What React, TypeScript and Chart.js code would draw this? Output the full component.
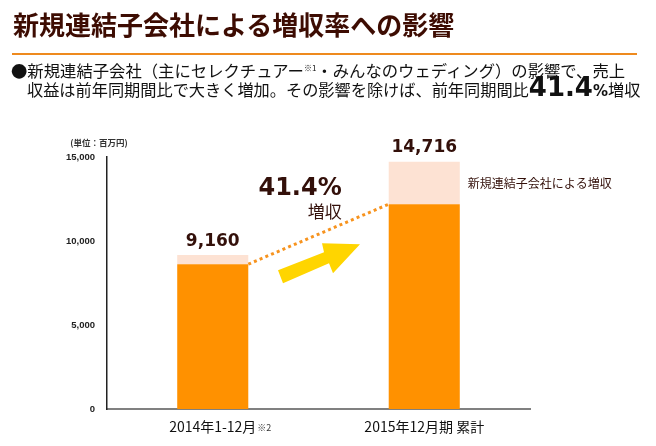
import React, { useEffect, useRef } from "react";
import { Chart, registerables } from "chart.js";
Chart.register(...registerables);

const categories = ["2014年1-12月", "2015年12月期 累計"];
const categoryNotes = ["※2", ""];
const baseValues = [8620, 12190];
const newSubsidiaryValues = [540, 2526];
const totalLabels = ["9,160", "14,716"];
const yMax = 15000;
const yStep = 5000;
const growthLabel = "41.4%";
const growthSub = "増収";
const segmentLabel = "新規連結子会社による増収";
const unitLabel = "(単位：百万円)";

const CJK = '"Noto Sans CJK JP", "Noto Sans", sans-serif';
const BROWN = "#33100a";
const ORANGE = "#ff9100";
const PEACH = "#fde2d3";

const annotationPlugin = {
  id: "annotations",
  afterDatasetsDraw(chart: any) {
    const { ctx, chartArea } = chart;
    const m0 = chart.getDatasetMeta(0).data;
    const m1 = chart.getDatasetMeta(1).data;
    ctx.save();

    // dotted growth line between base tops
    const a = m0[0], b = m0[1];
    ctx.strokeStyle = "#f7931e";
    ctx.lineWidth = 3;
    ctx.setLineDash([3, 3.2]);
    ctx.beginPath();
    ctx.moveTo(a.x + a.width / 2, a.y);
    ctx.lineTo(b.x - b.width / 2, b.y);
    ctx.stroke();
    ctx.setLineDash([]);

    // yellow arrow (decoration)
    const ax = (a.x + b.x) / 2;
    const ay = a.y;
    const pts = [
      [-40.5, 6], [5.5, -12], [3.5, -21], [41.5, -20], [14.5, 9], [10.5, -1], [-35.5, 19],
    ];
    ctx.fillStyle = "#ffd500";
    ctx.beginPath();
    pts.forEach((p, i) => (i ? ctx.lineTo(ax + p[0], ay + p[1]) : ctx.moveTo(ax + p[0], ay + p[1])));
    ctx.closePath();
    ctx.fill();

    // total labels
    ctx.fillStyle = BROWN;
    ctx.textAlign = "center";
    ctx.textBaseline = "middle";
    ctx.font = 'bold 17px "DejaVu Sans", sans-serif';
    m1.forEach((el: any, i: number) => {
      ctx.fillText(totalLabels[i], el.x, el.y - 14);
    });

    // growth annotation
    const rightX = b.x - b.width / 2 - 47;
    ctx.textAlign = "right";
    ctx.font = 'bold 24px "DejaVu Sans", sans-serif';
    ctx.fillText(growthLabel, rightX, chartArea.top + 32);
    ctx.font = `17px ${CJK}`;
    ctx.fillText(growthSub, rightX, chartArea.top + 55);

    // segment label
    const s = m1[1];
    ctx.textAlign = "left";
    ctx.font = `12px ${CJK}`;
    ctx.fillText(segmentLabel, s.x + s.width / 2 + 8, (s.y + m0[1].y) / 2);

    // unit label
    ctx.textAlign = "center";
    ctx.fillStyle = "#333";
    ctx.font = `bold 8.5px ${CJK}`;
    ctx.fillText(unitLabel, chartArea.left - 8, chartArea.top - 14);

    // category notes
    const xs = chart.scales.x;
    ctx.font = `14px ${CJK}`;
    categoryNotes.forEach((n, i) => {
      if (!n) return;
      const w = ctx.measureText(categories[i]).width;
      const cx = xs.getPixelForValue(i);
      ctx.font = `9px ${CJK}`;
      ctx.fillStyle = "#333";
      ctx.textAlign = "left";
      ctx.fillText(n, cx + w / 2 + 1, chartArea.bottom + 19);
      ctx.font = `14px ${CJK}`;
    });
    ctx.restore();
  },
};

export default function App() {
  const ref = useRef<HTMLCanvasElement>(null);
  useEffect(() => {
    if (!ref.current) return;
    const chart = new Chart(ref.current, {
      type: "bar",
      data: {
        labels: categories,
        datasets: [
          { data: baseValues, backgroundColor: ORANGE, barPercentage: 0.336, categoryPercentage: 1 },
          { data: newSubsidiaryValues, backgroundColor: PEACH, barPercentage: 0.336, categoryPercentage: 1 },
        ],
      },
      options: {
        responsive: false,
        animation: false,
        layout: { padding: { top: 157, right: 126, left: 0, bottom: 0 } },
        plugins: { legend: { display: false }, tooltip: { enabled: false } },
        scales: {
          x: {
            stacked: true,
            grid: { display: false, drawTicks: false },
            border: { display: true, color: "#808080", width: 2 },
            ticks: { color: "#111", font: { family: CJK, size: 14 }, padding: 9 },
            afterFit: (sc: any) => { sc.height = 37; },
          },
          y: {
            stacked: true,
            min: 0,
            max: yMax,
            grid: { display: false, drawTicks: false },
            border: { display: true, color: "#222", width: 1.5 },
            ticks: {
              stepSize: yStep,
              color: "#222",
              padding: 12,
              font: { family: '"Liberation Sans", Arial, sans-serif', size: 9.5, weight: "bold" },
              callback: (v: any) => Number(v).toLocaleString("en-US"),
            },
            afterFit: (sc: any) => { sc.width = 107; },
          },
        },
      } as any,
      plugins: [annotationPlugin],
    });
    return () => chart.destroy();
  }, []);

  return (
    <div style={{ position: "absolute", left: 0, top: 0, width: 656, height: 446, background: "#fff", overflow: "hidden" }}>
      <canvas ref={ref} width={656} height={446} style={{ position: "absolute", left: 0, top: 0, width: 656, height: 446 }} />
      <div style={{ position: "absolute", left: 13, top: 10, fontFamily: CJK, fontWeight: 700, fontSize: 26, lineHeight: "27px", color: "#3d0c02", whiteSpace: "nowrap" }}>
        新規連結子会社による増収率への影響
      </div>
      <div style={{ position: "absolute", left: 12, top: 53, width: 625, height: 2, background: "#ee8a1e" }} />
      <div style={{ position: "absolute", left: 11, top: 59, fontFamily: CJK, fontSize: 16.35, lineHeight: "18px", color: "#111", whiteSpace: "nowrap" }}>
        ●新規連結子会社（主にセレクチュアー<span style={{ fontSize: 8, verticalAlign: 6 }}>※1</span>・みんなのウェディング）の影響で、売上
      </div>
      <div style={{ position: "absolute", left: 27, top: 74, height: 26, fontFamily: CJK, fontSize: 16.2, lineHeight: "26px", color: "#111", whiteSpace: "nowrap" }}>
        収益は前年同期間比で大きく増加。その影響を除けば、前年同期間比
        <span style={{ fontFamily: '"DejaVu Sans", sans-serif', fontWeight: 700, fontSize: 26 }}>41.4</span>
        <span style={{ fontFamily: '"DejaVu Sans", sans-serif', fontWeight: 700, fontSize: 15 }}>%</span>
        増収
      </div>
    </div>
  );
}
